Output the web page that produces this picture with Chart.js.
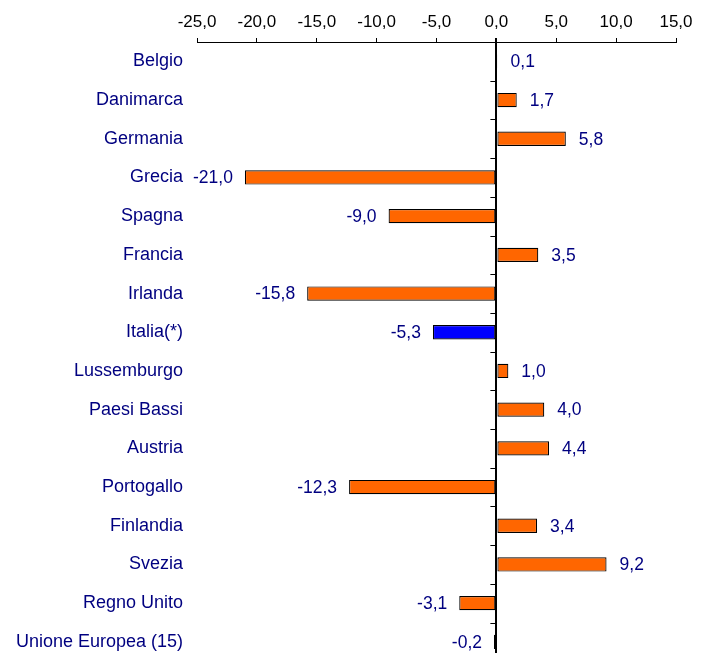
<!DOCTYPE html>
<html>
<head>
<meta charset="utf-8">
<script src="https://cdn.jsdelivr.net/npm/chart.js@4/dist/chart.umd.min.js"></script>
<style>
  html, body { margin: 0; padding: 0; background: #fff; overflow: hidden; }
</style>
</head>
<body>
<canvas id="saldoChart" width="702" height="686"></canvas>
<script>
var paesi = [
    'Belgio', 'Danimarca', 'Germania', 'Grecia', 'Spagna', 'Francia',
    'Irlanda', 'Italia(*)', 'Lussemburgo', 'Paesi Bassi', 'Austria',
    'Portogallo', 'Finlandia', 'Svezia', 'Regno Unito', 'Unione Europea (15)'
];
var valori = [0.1, 1.7, 5.8, -21.0, -9.0, 3.5, -15.8, -5.3, 1.0, 4.0, 4.4, -12.3, 3.4, 9.2, -3.1, -0.2];
var asseMin = -25;
var asseMax = 15;
var asseStep = 5;

var NAVY = '#000080';
var FONT = "'Liberation Sans', Arial, sans-serif";

function virgola(v) {
    return v.toFixed(1).replace('.', ',');
}

// orange bars, Italy highlighted in blue
var coloriBarre = paesi.map(function (p) {
    return p === 'Italia(*)' ? '#0000ff' : '#ff6600';
});

// value labels at the end of each bar
var etichette = {
    id: 'etichette',
    afterDatasetsDraw: function (chart) {
        var ctx = chart.ctx;
        var meta = chart.getDatasetMeta(0);
        ctx.save();
        ctx.font = '17.5px ' + FONT;
        ctx.fillStyle = NAVY;
        ctx.textBaseline = 'middle';
        meta.data.forEach(function (bar, i) {
            var v = valori[i];
            if (v >= 0) {
                ctx.textAlign = 'left';
                ctx.fillText(virgola(v), bar.x + 13, bar.y + 1);
            } else {
                ctx.textAlign = 'right';
                ctx.fillText(virgola(v), bar.x - 12, bar.y + 1);
            }
        });
        ctx.restore();
    }
};

// small category ticks on the zero line
var tacche = {
    id: 'tacche',
    afterDraw: function (chart) {
        var ctx = chart.ctx;
        var x0 = chart.scales.x.getPixelForValue(0);
        var y = chart.scales.y;
        ctx.save();
        ctx.strokeStyle = '#000';
        ctx.lineWidth = 1;
        ctx.beginPath();
        for (var i = 1; i < paesi.length; i++) {
            var yy = Math.round((y.getPixelForTick(i - 1) + y.getPixelForTick(i)) / 2) + 0.5;
            ctx.moveTo(x0 - 6, yy);
            ctx.lineTo(x0, yy);
        }
        ctx.stroke();
        ctx.restore();
    }
};

var ctx = document.getElementById('saldoChart').getContext('2d');
var chart = new Chart(ctx, {
    type: 'bar',
    data: {
        labels: paesi,
        datasets: [{
            data: valori,
            backgroundColor: coloriBarre,
            borderColor: '#000',
            borderWidth: 1.2,
            borderSkipped: false,
            barPercentage: 0.37,
            categoryPercentage: 1
        }]
    },
    options: {
        indexAxis: 'y',
        responsive: false,
        animation: false,
        layout: { padding: { left: 0, right: 26, top: 0, bottom: 0 } },
        plugins: {
            legend: { display: false },
            tooltip: { enabled: false }
        },
        scales: {
            x: {
                position: 'top',
                min: asseMin,
                max: asseMax,
                afterFit: function (scale) { scale.height = 42; },
                ticks: {
                    stepSize: asseStep,
                    color: '#000',
                    padding: 5,
                    font: { family: FONT, size: 17 },
                    callback: function (v) { return virgola(v); }
                },
                border: { display: true, color: '#000', width: 1 },
                grid: {
                    color: function (c) { return c.tick && c.tick.value === 0 ? '#000' : 'rgba(0,0,0,0)'; },
                    lineWidth: function (c) { return c.tick && c.tick.value === 0 ? 2 : 1; },
                    tickColor: '#000',
                    tickLength: 4
                }
            },
            y: {
                afterFit: function (scale) { scale.width = 197; },
                ticks: {
                    color: NAVY,
                    padding: 14,
                    font: { family: FONT, size: 18 }
                },
                border: { display: false },
                grid: { display: false, drawTicks: false }
            }
        }
    },
    plugins: [etichette, tacche]
});
</script>
</body>
</html>
